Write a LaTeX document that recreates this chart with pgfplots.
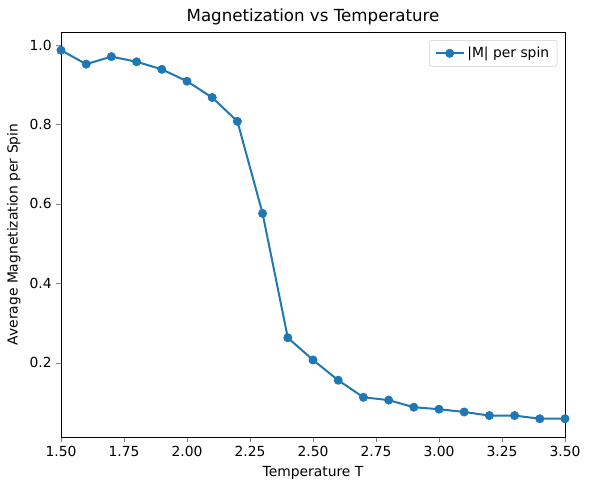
\documentclass[border=0pt]{standalone}
\usepackage{pgfplots}
\pgfplotsset{compat=1.18}
\usepackage{fontspec}
\setmainfont{DejaVu Sans}
\definecolor{mplblue}{HTML}{1F77B4}
\begin{document}
\begin{tikzpicture}[x=0.75pt,y=0.75pt]
\begin{axis}[
  at={(61pt*0.75,53pt*0.75)}, anchor=south west,
  width=378pt, height=303.75pt, scale only axis,
  xmin=1.5, xmax=3.5, ymin=0.013, ymax=1.033,
  xtick={1.5,1.75,2,2.25,2.5,2.75,3,3.25,3.5},
  ytick={0.2,0.4,0.6,0.8,1.0},
  xticklabel style={/pgf/number format/.cd,fixed,fixed zerofill,precision=2},
  yticklabel style={/pgf/number format/.cd,fixed,fixed zerofill,precision=1},
  /pgf/number format/assume math mode=true,
  tick align=outside, tick pos=left,
  major tick length=3.5pt,
  ticklabel style={font=\fontsize{10.4}{12}\selectfont},
  label style={font=\fontsize{10.4}{12}\selectfont},
  title style={font=\fontsize{12.5}{14}\selectfont, yshift=-4.5pt},
  title={Magnetization vs Temperature},
  xlabel={Temperature T},
  ylabel={Average Magnetization per Spin},
  legend style={at={(0.985,0.98)}, anchor=north east, font=\fontsize{10.4}{12}\selectfont, draw=black!20, rounded corners=2pt, inner xsep=4pt, inner ysep=3pt},
  legend cell align=left,
  legend image code/.code={
    \draw[mark repeat=2,mark phase=2,#1] plot coordinates {(0pt,0pt) (10.5pt,0pt) (21pt,0pt)};
  },
  axis line style={line width=0.6pt},
  clip=false,
]
\addplot[mplblue, line width=1.5pt, mark=*, mark size=3.1pt, mark options={fill=mplblue, draw=mplblue, line width=0.5pt}] coordinates {
(1.5,0.987) (1.6,0.952) (1.7,0.971) (1.8,0.958) (1.9,0.939) (2.0,0.909)
(2.1,0.868) (2.2,0.808) (2.3,0.576) (2.4,0.263) (2.5,0.207) (2.6,0.156)
(2.7,0.113) (2.8,0.106) (2.9,0.088) (3.0,0.083) (3.1,0.076) (3.2,0.067)
(3.3,0.067) (3.4,0.059) (3.5,0.059)
};
\addlegendentry{|M| per spin}
\end{axis}
\pgfresetboundingbox
\path (0,0) rectangle (590,490);
\end{tikzpicture}
\end{document}
